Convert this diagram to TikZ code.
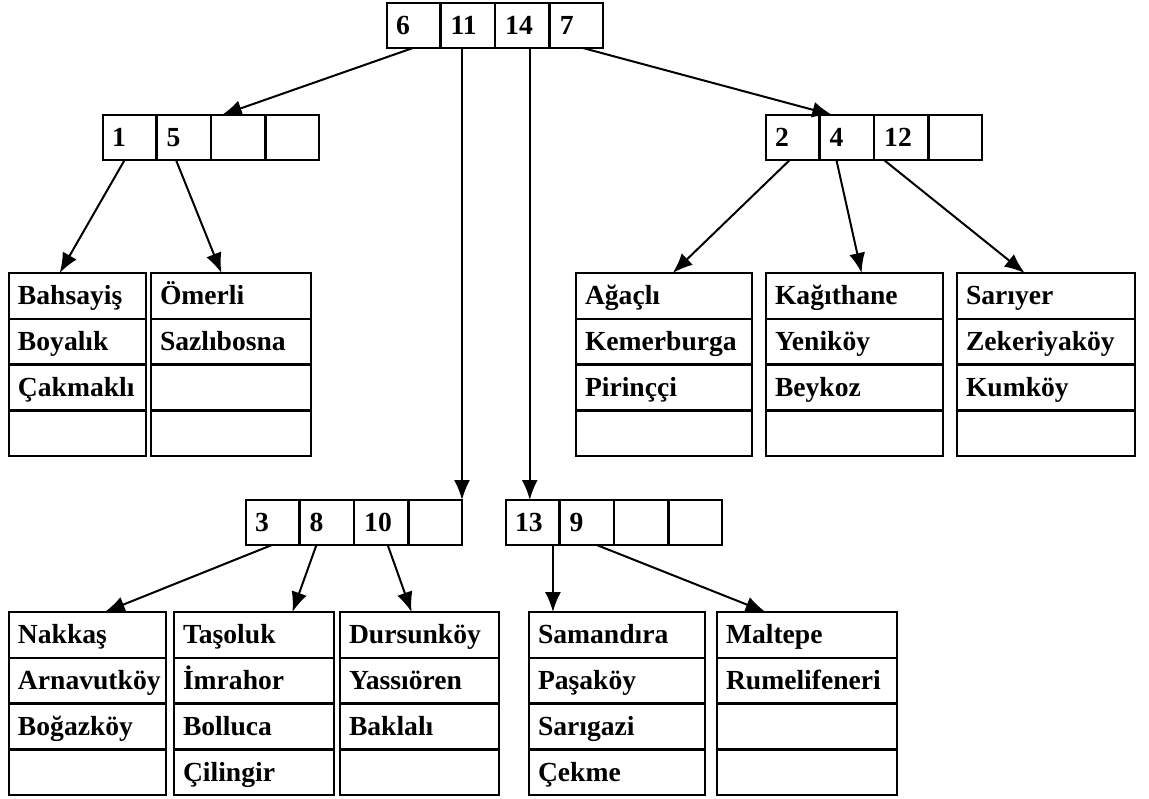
\documentclass[tikz,border=0pt]{standalone}
\usepackage{fontspec}
\setmainfont{Liberation Serif}
\usetikzlibrary{shapes.multipart, arrows.meta, positioning, calc}

% bold cell text with a fixed strut, so every split part gets the same height
\newcommand{\cellfont}{\fontsize{13.8}{16}\selectfont\bfseries\rule[-3.3pt]{0pt}{15.3pt}}

\begin{document}
\begin{tikzpicture}[x=0.5pt, y=-0.5pt,
        keys/.style={rectangle split, rectangle split horizontal, rectangle split parts=4,
            rectangle split ignore empty parts=false, draw, line width=1.2pt, anchor=north west,
            outer sep=0pt, inner xsep=4.5pt, inner ysep=3.6pt, text width=17.1pt,
            font=\cellfont, align=left},
        bucket/.style={rectangle split, rectangle split parts=4,
            rectangle split ignore empty parts=false, draw, line width=1.2pt, anchor=north west,
            outer sep=0pt, inner xsep=4.5pt, inner ysep=3.2pt,
            font=\cellfont, align=left},
        link/.style={line width=1pt, -{Latex[length=10pt, width=8pt]}}]
        \useasboundingbox (0,0) rectangle (1149,798);

        % index nodes
        \node (Root) [keys] at (387,3) {6 \nodepart{two}11 \nodepart{three}14 \nodepart{four}7};
        \node (Left) [keys] at (103,115) {1 \nodepart{two}5 \nodepart{three}\nodepart{four}};
        \node (Right) [keys] at (766,115) {2 \nodepart{two}4 \nodepart{three}12 \nodepart{four}};
        \node (MidLeft) [keys] at (246,500) {3 \nodepart{two}8 \nodepart{three}10 \nodepart{four}};
        \node (MidRight) [keys] at (506,500) {13 \nodepart{two}9 \nodepart{three}\nodepart{four}};

        % buckets
        \node (Bahsayis) [bucket, text width=59.5pt] at (9,273) {Bahsayiş \nodepart{two}Boyalık \nodepart{three}Çakmaklı \nodepart{four}};
        \node (Omerli) [bucket, text width=71pt] at (151,273) {Ömerli \nodepart{two}Sazlıbosna \nodepart{three}\nodepart{four}};
        \node (Agacli) [bucket, text width=79pt] at (576,273) {Ağaçlı \nodepart{two}Kemerburga \nodepart{three}Pirinççi \nodepart{four}};
        \node (Kagithane) [bucket, text width=79.5pt] at (766,273) {Kağıthane \nodepart{two}Yeniköy \nodepart{three}Beykoz \nodepart{four}};
        \node (Sariyer) [bucket, text width=80pt] at (957,273) {Sarıyer \nodepart{two}Zekeriyaköy \nodepart{three}Kumköy \nodepart{four}};
        \node (Nakkas) [bucket, text width=69.5pt] at (9,612) {Nakkaş \nodepart{two}Arnavutköy \nodepart{three}Boğazköy \nodepart{four}};
        \node (Tasoluk) [bucket, text width=71pt] at (174,612) {Taşoluk \nodepart{two}İmrahor \nodepart{three}Bolluca \nodepart{four}Çilingir};
        \node (Dursunkoy) [bucket, text width=70.5pt] at (340,612) {Dursunköy \nodepart{two}Yassıören \nodepart{three}Baklalı \nodepart{four}};
        \node (Samandira) [bucket, text width=79pt] at (529,612) {Samandıra \nodepart{two}Paşaköy \nodepart{three}Sarıgazi \nodepart{four}Çekme};
        \node (Maltepe) [bucket, text width=81pt] at (717,612) {Maltepe \nodepart{two}Rumelifeneri \nodepart{three}\nodepart{four}};

        \coordinate (MidRightIn) at ($(MidRight.north west)!.11!(MidRight.north east)$);
        \coordinate (SamandiraIn) at ($(Samandira.north west)!.136!(Samandira.north east)$);

        % pointers
        \draw[link] ($(Root.south west)!.12!(Root.south east)$) -- ($(Left.north west)!.55!(Left.north east)$);
        \draw[link] (MidLeft.north east |- Root.south) -- (MidLeft.north east);
        \draw[link] (MidRightIn |- Root.south) -- (MidRightIn);
        \draw[link] ($(Root.south west)!.907!(Root.south east)$) -- ($(Right.north west)!.307!(Right.north east)$);

        \draw[link] ($(Left.south west)!.10!(Left.south east)$) -- ($(Bahsayis.north west)!.37!(Bahsayis.north east)$);
        \draw[link] ($(Left.south west)!.338!(Left.south east)$) -- ($(Omerli.north west)!.44!(Omerli.north east)$);

        \draw[link] ($(Right.south west)!.11!(Right.south east)$) -- ($(Agacli.north west)!.55!(Agacli.north east)$);
        \draw[link] ($(Right.south west)!.326!(Right.south east)$) -- ($(Kagithane.north west)!.54!(Kagithane.north east)$);
        \draw[link] ($(Right.south west)!.546!(Right.south east)$) -- ($(Sariyer.north west)!.38!(Sariyer.north east)$);

        \draw[link] ($(MidLeft.south west)!.12!(MidLeft.south east)$) -- ($(Nakkas.north west)!.61!(Nakkas.north east)$);
        \draw[link] ($(MidLeft.south west)!.326!(MidLeft.south east)$) -- ($(Tasoluk.north west)!.74!(Tasoluk.north east)$);
        \draw[link] ($(MidLeft.south west)!.656!(MidLeft.south east)$) -- ($(Dursunkoy.north west)!.45!(Dursunkoy.north east)$);

        \draw[link] (SamandiraIn |- MidRight.south) -- (SamandiraIn);
        \draw[link] ($(MidRight.south west)!.42!(MidRight.south east)$) -- ($(Maltepe.north west)!.27!(Maltepe.north east)$);
    \end{tikzpicture}
\end{document}
